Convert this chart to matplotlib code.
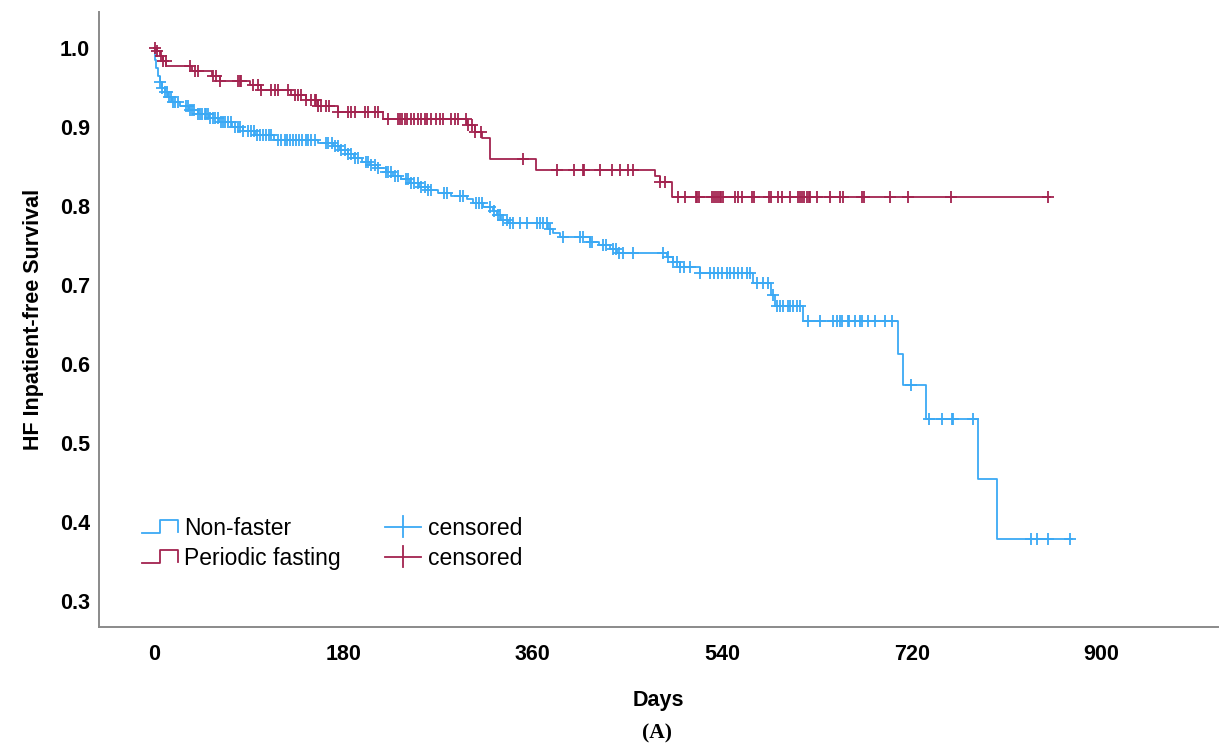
import numpy as np
import matplotlib
matplotlib.use("Agg")
import matplotlib.pyplot as plt
from matplotlib.legend_handler import HandlerBase
from matplotlib.lines import Line2D

# ---------------- data ----------------
nf_days = [0, 1, 2, 4, 6, 8, 10, 13, 17, 25, 33, 42, 52, 62, 74, 85, 96, 114, 156, 170,
           177, 184, 190, 198, 205, 213, 220, 227, 235, 243, 252, 260, 270, 282, 297, 303,
           313, 322, 326, 330, 336, 374, 379, 386, 414, 423, 433, 440, 487, 493, 500, 519,
           569, 586, 590, 617, 707, 712, 734, 783, 801]
nf_surv = [1.0, 0.985, 0.975, 0.965, 0.957, 0.950, 0.944, 0.938, 0.932, 0.926, 0.921, 0.916,
           0.911, 0.906, 0.900, 0.895, 0.890, 0.884, 0.880, 0.876, 0.871, 0.866, 0.861, 0.856,
           0.852, 0.848, 0.843, 0.838, 0.834, 0.829, 0.824, 0.820, 0.816, 0.813, 0.809, 0.804,
           0.799, 0.794, 0.788, 0.782, 0.778, 0.771, 0.766, 0.761, 0.754, 0.750, 0.746, 0.740,
           0.735, 0.729, 0.723, 0.715, 0.703, 0.687, 0.673, 0.655, 0.613, 0.573, 0.530, 0.454,
           0.379]
nf_censored = [6, 8, 10, 12, 14, 16, 18, 20, 23, 30, 32, 34, 36, 38, 42, 44, 46, 48, 49, 51, 53,
               56, 58, 61, 64, 66, 67, 70, 73, 77, 80, 82, 85, 89, 92, 95, 98, 101, 104, 106, 109,
               111, 118, 121, 124, 126, 129, 132, 135, 138, 141, 144, 146, 149, 153, 163, 165,
               169, 172, 175, 178, 181, 184, 187, 191, 194, 201, 203, 206, 210, 213, 220, 222,
               225, 229, 232, 239, 241, 244, 247, 251, 254, 257, 260, 263, 276, 278, 291, 294,
               306, 309, 312, 319, 323, 327, 329, 332, 335.5, 338, 341, 348, 354.5, 364, 367,
               370, 373.5, 376, 389, 405, 408, 414, 416, 427, 429, 436, 439, 442, 446, 455, 484,
               488, 493, 497, 500, 504, 509, 519, 528, 532, 536, 540, 544, 547, 551, 555, 559,
               563, 566, 573, 579, 583, 588, 592, 595, 598, 602, 604, 607, 611, 614, 621, 633,
               645, 649, 652, 659, 654, 660, 666, 671, 673, 678, 685, 695, 701, 719, 736, 749,
               758.5, 759, 778, 833.5, 839, 849, 870]
nf_end = 872

pf_days = [0, 3, 6, 8.5, 11.5, 36, 55, 63, 91, 102, 130, 144, 156, 175, 218, 297.5, 305,
           312, 319, 363, 476, 481, 492]
pf_surv = [1.0, 0.996, 0.990, 0.984, 0.977, 0.971, 0.965, 0.958, 0.953, 0.947, 0.941, 0.934,
           0.927, 0.919, 0.910, 0.902, 0.894, 0.886, 0.859, 0.846, 0.838, 0.830, 0.812]
pf_censored = [1, 3, 6.7, 8.6, 11.4, 34, 39, 42, 56, 59, 63, 80, 81.5, 82.5, 94, 99, 102, 111,
               115, 118, 127, 134, 137, 140, 144, 149, 153, 154, 156, 159, 163, 166, 175, 184,
               187, 191, 200, 203, 210, 213, 222, 232, 234, 236, 238, 240, 244, 247, 251, 254,
               257, 259, 263, 268, 272, 275, 282, 286, 289, 296, 298, 302, 305, 311, 351, 383,
               399, 408, 409, 424, 435, 443, 450, 455, 481, 486, 498, 505, 515, 516, 518, 530,
               532, 534, 536, 538, 539, 541, 552, 555, 559, 568, 570, 584, 586, 593, 597, 604,
               612, 614, 616, 618, 620, 622, 623, 630, 642, 652, 655, 673, 675, 699.5, 716.6,
               757.5, 849]
pf_end = 851

groups = ["Non-faster", "Periodic fasting"]
x_ticks = [0, 180, 360, 540, 720, 900]
y_ticks = [0.3, 0.4, 0.5, 0.6, 0.7, 0.8, 0.9, 1.0]

BLUE = "#3BA9F4"
RED = "#A3234F"

plt.rcParams['font.family'] = ['Liberation Sans', 'DejaVu Sans']

fig = plt.figure(figsize=(12.19, 7.52), dpi=100)
ax = fig.add_axes([99 / 1219, 1 - 627 / 752, (1218 - 99) / 1219, (627 - 12) / 752])


def draw_group(days, surv, cens, end, color):
    t = np.array(days + [end], dtype=float)
    s = np.array(surv + [surv[-1]], dtype=float)
    ax.step(t, s, where='post', color=color, lw=1.3, zorder=3)
    c = np.array(cens, dtype=float)
    idx = np.searchsorted(np.array(days, dtype=float), c, side='right') - 1
    cy = np.array(surv)[idx]
    ax.plot(c, cy, linestyle='none', marker='+', markersize=8.5, mew=1.3, color=color, zorder=4)


draw_group(nf_days, nf_surv, nf_censored, nf_end, BLUE)
draw_group(pf_days, pf_surv, pf_censored, pf_end, RED)

ax.set_xlim(-52.3, 1011)
ax.set_ylim(0.267, 1.0456)
ax.set_xticks(x_ticks)
ax.set_xticklabels([str(v) for v in x_ticks])
ax.set_yticks(y_ticks)
ax.set_yticklabels([f"{v:.1f}" for v in y_ticks])
ax.tick_params(length=0, labelsize=15.5)
ax.tick_params(axis='x', pad=12)
ax.tick_params(axis='y', pad=6.5)
for lab in ax.get_xticklabels() + ax.get_yticklabels():
    lab.set_fontweight('bold')
for sp in ['top', 'right']:
    ax.spines[sp].set_visible(False)
for sp in ['left', 'bottom']:
    ax.spines[sp].set_color('#8a8a8a')
    ax.spines[sp].set_linewidth(1.4)

ax.set_xlabel("Days", fontsize=15.5, fontweight='bold', labelpad=18.5)
ax.set_ylabel("HF Inpatient-free Survival", fontsize=15.5, fontweight='bold', labelpad=11.5)


class StepHandler(HandlerBase):
    def create_artists(self, legend, orig_handle, xdescent, ydescent, width, height,
                       fontsize, trans):
        x0 = -xdescent
        x1 = x0 + width
        xm = x0 + width / 2
        ylo = -ydescent + 0.1 * height
        yhi = -ydescent + 0.9 * height
        line = Line2D([x0, xm, xm, x1, x1], [ylo, ylo, yhi, yhi, ylo + 0.1 * height],
                      color=orig_handle.get_color(), lw=1.3, transform=trans)
        return [line]


class PlusHandler(HandlerBase):
    def create_artists(self, legend, orig_handle, xdescent, ydescent, width, height,
                       fontsize, trans):
        x0 = -xdescent
        x1 = x0 + width
        xm = x0 + width / 2
        yc = -ydescent + height / 2
        h = Line2D([x0, x1], [yc, yc], color=orig_handle.get_color(), lw=1.3, transform=trans)
        v = Line2D([xm, xm], [yc - 0.65 * height, yc + 0.65 * height],
                   color=orig_handle.get_color(), lw=1.3, transform=trans)
        return [h, v]


class StepKey(Line2D):
    pass


class PlusKey(Line2D):
    pass


h1 = StepKey([], [], color=BLUE)
h2 = StepKey([], [], color=RED)
h3 = PlusKey([], [], color=BLUE)
h4 = PlusKey([], [], color=RED)
leg = ax.legend([h1, h2, h3, h4], groups + ["censored", "censored"], ncol=2,
                handler_map={StepKey: StepHandler(), PlusKey: PlusHandler()},
                loc='upper left', bbox_to_anchor=(0.0385, 0.179), frameon=False,
                fontsize=16.5, handlelength=1.55, handletextpad=0.3, columnspacing=1.93,
                labelspacing=0.3, borderaxespad=0, borderpad=0)

fig.text(657 / 1219, 1 - 733 / 752, "(A)", ha='center', va='center', fontsize=15.5,
         fontweight='bold', family=['Liberation Serif', 'DejaVu Serif'])

fig.savefig("out.png", dpi=100)
